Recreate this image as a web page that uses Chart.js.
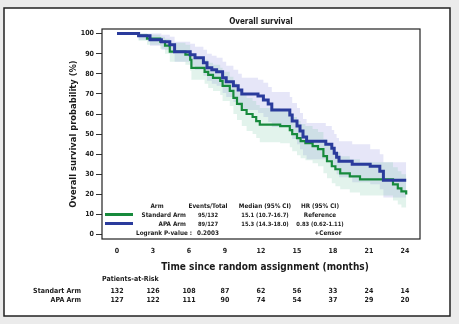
<!DOCTYPE html>
<html>
<head>
<meta charset="utf-8">
<script src="https://cdn.jsdelivr.net/npm/chart.js@4/dist/chart.umd.min.js"></script>
<style>
  body { margin: 0; background: #ebebeb; }
  canvas { display: block; }
</style>
</head>
<body>
<canvas id="os_chart" width="459" height="324"></canvas>
<script>
// Kaplan-Meier estimates, APA arm (months, % alive)
var apaTimes = [0, 1.8, 2.75, 3.7, 4.4, 4.8, 6.1, 6.5, 7.2, 7.5, 7.9, 8.3, 8.8, 9.1, 9.7, 10.1, 10.4, 11.75, 12.2, 12.6, 12.9,
                14.4, 14.6, 15.0, 15.25, 15.5, 15.8, 17.4, 17.9, 18.1, 18.3, 18.5, 19.6, 21.1, 21.9, 22.2, 24.1];
var apaSurv  = [100, 99, 97, 96, 94.5, 91, 89.5, 88, 85.5, 83, 82, 81, 78, 76, 74, 72, 70, 69, 67, 65, 62,
                59.5, 56.5, 54, 51.5, 48.5, 46.5, 45, 43, 40.5, 38.5, 36.5, 35, 34, 31.5, 27, 27];
var apaUpper = [100, 100, 100, 99.5, 98.5, 96, 95, 93.5, 92, 90, 89, 88, 86, 84, 82, 80, 78, 77, 75.5, 73.5, 71,
                68.5, 65.5, 63, 60.5, 57.5, 55.5, 54, 52, 50, 48, 46.5, 45, 42.5, 40, 36, 36];
var apaLower = [100, 97, 94, 92, 90, 86, 84, 82, 79, 76.5, 75, 74, 70.5, 68.5, 66, 64, 62, 60.5, 58.5, 56, 53.5,
                51, 47.5, 45, 42.5, 39.5, 37.5, 36, 34, 32, 30, 28.5, 26, 25, 22.5, 18.5, 18.5];

// Kaplan-Meier estimates, standard arm
var stdTimes = [0, 1.8, 2.5, 3.6, 4.0, 4.4, 5.7, 6.1, 6.2, 7.3, 7.6, 8.0, 8.6, 8.8, 9.4, 9.7, 10.0, 10.4, 10.8, 11.3, 11.6,
                11.9, 13.6, 14.4, 14.6, 15.0, 15.3, 15.7, 16.3, 16.75, 17.2, 17.5, 17.9, 18.2, 18.6, 19.4, 20.25, 23.0, 23.4, 23.7, 24.1];
var stdSurv  = [100, 99, 97.5, 96, 94, 91, 89.5, 87, 83, 81, 79.5, 78, 76.5, 74, 71.5, 68, 65, 62, 60, 58.5, 56.5,
                54.7, 54, 52, 50, 48, 46.5, 45.5, 44, 42.5, 39, 36.5, 34, 32.5, 30.5, 29, 27.5, 25, 23, 21.5, 20];
var stdUpper = [100, 100, 99.5, 98.5, 97.5, 95.5, 94.5, 92, 88.5, 87, 85.5, 84.5, 83, 81, 78.5, 75.5, 72.5, 70, 68, 66.5, 64.5,
                63, 62.5, 60.5, 58.5, 56.5, 55, 54, 52.5, 51, 47.5, 45, 42.5, 41, 39, 37.5, 36, 33.5, 31.5, 30, 28.5];
var stdLower = [100, 96.5, 94.5, 92.5, 90, 86, 84.5, 81.5, 77, 75, 73, 71.5, 69.5, 66.5, 64, 60, 57, 54, 51.5, 50, 48,
                46, 45.5, 43.5, 41.5, 39.5, 38, 37, 35.5, 34, 30.5, 28, 25.5, 24, 22.5, 21, 19.5, 17, 15, 13.5, 12];

// axis ticks and numbers at risk
var monthTicks = [0, 3, 6, 9, 12, 15, 18, 21, 24];
var pctTicks = [0, 10, 20, 30, 40, 50, 60, 70, 80, 90, 100];
var riskStandard = [132, 126, 108, 87, 62, 56, 33, 24, 14];
var riskApa = [127, 122, 111, 90, 74, 54, 37, 29, 20];

var GREEN = '#178a3c';
var BLUE = '#2a3b9c';
var FONT = "'Liberation Sans Narrow', 'DejaVu Sans Condensed', sans-serif";

function toPoints(times, values) {
    return times.map(function (t, i) { return { x: t, y: values[i] }; });
}

function band(data, color, fill, order) {
    return {
        data: data,
        stepped: 'before',
        borderWidth: 0,
        pointRadius: 0,
        backgroundColor: color,
        fill: fill,
        order: order
    };
}

// frame, plot box, titles, legend table and risk table
var decorations = {
    id: 'decorations',
    beforeDraw: function (chart) {
        var ctx = chart.ctx;
        ctx.save();
        ctx.fillStyle = '#ebebeb';
        ctx.fillRect(0, 0, 459, 324);
        ctx.fillStyle = '#ffffff';
        ctx.fillRect(4, 8, 446, 308);
        ctx.strokeStyle = '#222';
        ctx.lineWidth = 1.5;
        ctx.strokeRect(4, 8, 446, 308);
        ctx.restore();
    },
    afterDraw: function (chart) {
        var ctx = chart.ctx;
        var area = chart.chartArea;
        var xs = chart.scales.x;
        ctx.save();
        ctx.strokeStyle = '#222';
        ctx.lineWidth = 1.2;
        ctx.strokeRect(area.left, area.top, area.right - area.left, area.bottom - area.top);

        ctx.fillStyle = '#1a1a1a';
        ctx.textBaseline = 'middle';
        ctx.textAlign = 'center';
        ctx.font = 'bold 8px ' + FONT;
        ctx.fillText('Overall survival', (area.left + area.right) / 2, 22);

        ctx.font = 'bold 10px ' + FONT;
        ctx.fillText('Time since random assignment (months)', (area.left + area.right) / 2 + 4, 267);

        ctx.save();
        ctx.translate(74, (area.top + area.bottom) / 2);
        ctx.rotate(-Math.PI / 2);
        ctx.font = 'bold 9.3px ' + FONT;
        ctx.fillText('Overall survival probability (%)', 0, 0);
        ctx.restore();

        // legend table
        ctx.font = 'bold 6.3px ' + FONT;
        ctx.fillText('Arm', 157, 206);
        ctx.fillText('Events/Total', 208, 206);
        ctx.fillText('Median (95% CI)', 265, 206);
        ctx.fillText('HR (95% CI)', 320, 206);
        ctx.fillText('+Censor', 328, 233);
        ctx.font = 'bold 5.8px ' + FONT;
        ctx.fillText('95/132', 208, 215);
        ctx.fillText('15.1 (10.7-16.7)', 265, 215);
        ctx.fillText('89/127', 208, 224);
        ctx.fillText('15.3 (14.3-18.0)', 265, 224);
        ctx.fillText('0.83 (0.62-1.11)', 320, 224);
        ctx.font = 'bold 6.3px ' + FONT;
        ctx.fillText('Reference', 320, 215);
        ctx.textAlign = 'right';
        ctx.fillText('Standard Arm', 186, 215);
        ctx.fillText('APA Arm', 186, 224);
        ctx.fillText('Logrank P-value :', 192, 233);
        ctx.textAlign = 'left';
        ctx.fillText('0.2003', 197, 233);

        ctx.lineWidth = 3;
        ctx.strokeStyle = GREEN;
        ctx.beginPath();
        ctx.moveTo(105, 214.5);
        ctx.lineTo(133, 214.5);
        ctx.stroke();
        ctx.strokeStyle = BLUE;
        ctx.beginPath();
        ctx.moveTo(105, 223.5);
        ctx.lineTo(133, 223.5);
        ctx.stroke();

        // patients at risk
        ctx.font = 'bold 7px ' + FONT;
        ctx.textAlign = 'left';
        ctx.fillText('Patients-at-Risk', 102, 279);
        ctx.textAlign = 'right';
        ctx.fillText('Standart Arm', 81, 291);
        ctx.fillText('APA Arm', 81, 300.5);
        ctx.textAlign = 'center';
        monthTicks.forEach(function (m, i) {
            var px = xs.getPixelForValue(m);
            ctx.fillText(String(riskStandard[i]), px, 291);
            ctx.fillText(String(riskApa[i]), px, 300.5);
        });
        ctx.restore();
    }
};

var ctx = document.getElementById('os_chart').getContext('2d');

var myChart = new Chart(ctx, {
    type: 'line',
    data: {
        datasets: [
            band(toPoints(apaTimes, apaUpper), 'rgba(140,140,222,0.22)', '+1', 5),
            band(toPoints(apaTimes, apaLower), 'rgba(0,0,0,0)', false, 6),
            band(toPoints(stdTimes, stdUpper), 'rgba(110,196,160,0.2)', '+1', 3),
            band(toPoints(stdTimes, stdLower), 'rgba(0,0,0,0)', false, 4),
            {
                label: 'Standard Arm',
                data: toPoints(stdTimes, stdSurv),
                stepped: 'before',
                borderColor: GREEN,
                borderWidth: 2.2,
                pointRadius: 0,
                fill: false,
                order: 1
            },
            {
                label: 'APA Arm',
                data: toPoints(apaTimes, apaSurv),
                stepped: 'before',
                borderColor: BLUE,
                borderWidth: 3,
                pointRadius: 0,
                fill: false,
                order: 0
            }
        ]
    },
    options: {
        responsive: false,
        animation: false,
        layout: { padding: { left: 72, top: 29, right: 39, bottom: 65 } },
        plugins: {
            legend: { display: false },
            title: { display: false },
            tooltip: { enabled: false }
        },
        scales: {
            x: {
                type: 'linear',
                min: -1.25,
                max: 25.25,
                afterBuildTicks: function (scale) {
                    scale.ticks = monthTicks.map(function (v) { return { value: v }; });
                },
                afterFit: function (scale) { scale.height = 20; },
                grid: { display: false, drawTicks: false },
                border: { display: false },
                ticks: {
                    padding: 8,
                    color: '#222',
                    font: { family: FONT, size: 7, weight: 'bold' },
                    maxRotation: 0
                }
            },
            y: {
                min: -2.2,
                max: 102.3,
                afterBuildTicks: function (scale) {
                    scale.ticks = pctTicks.map(function (v) { return { value: v }; });
                },
                afterFit: function (scale) { scale.width = 30; },
                grid: {
                    drawOnChartArea: false,
                    drawTicks: true,
                    tickLength: 6,
                    color: '#333'
                },
                border: { display: false },
                ticks: {
                    padding: 2,
                    color: '#222',
                    font: { family: FONT, size: 7, weight: 'bold' }
                }
            }
        }
    },
    plugins: [decorations]
});
</script>
</body>
</html>
